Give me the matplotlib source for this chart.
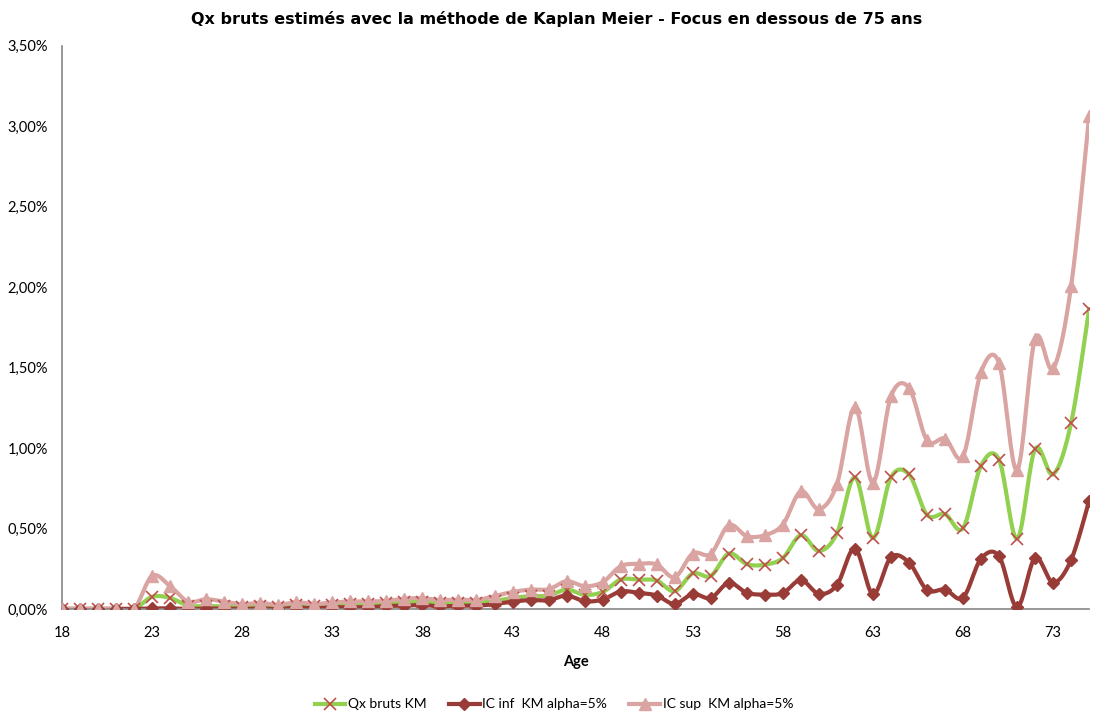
#############
# Libraries #
#############

import matplotlib.pyplot as plt
from matplotlib.ticker import FuncFormatter, MultipleLocator
import numpy as np

########
# Data #
########

ages = list(range(18, 76))
age_ticks = list(range(18, 76, 5))

# Qx bruts (en %)
qx_km = [0, 0, 0, 0, 0, 0.075, 0.068, 0.02, 0.018, 0.015,
         0.012, 0.015, 0.012, 0.025, 0.02, 0.025, 0.028, 0.028, 0.035, 0.04,
         0.045, 0.035, 0.038, 0.038, 0.05, 0.068, 0.08, 0.082, 0.12, 0.088,
         0.105, 0.182, 0.182, 0.176, 0.11, 0.22, 0.205, 0.344, 0.278, 0.275,
         0.316, 0.458, 0.36, 0.469, 0.818, 0.44, 0.818, 0.836, 0.585, 0.589,
         0.502, 0.89, 0.927, 0.436, 0.993, 0.836, 1.156, 1.865]

ic_inf = [0, 0, 0, 0, 0, 0.003, 0.003, 0.0, 0.002, 0.002,
          0.0, 0.003, 0.0, 0.008, 0.005, 0.01, 0.01, 0.01, 0.018, 0.02,
          0.025, 0.015, 0.02, 0.02, 0.03, 0.045, 0.055, 0.054, 0.083, 0.048,
          0.058, 0.108, 0.1, 0.083, 0.031, 0.093, 0.068, 0.162, 0.1, 0.089,
          0.098, 0.179, 0.094, 0.148, 0.375, 0.092, 0.321, 0.288, 0.118, 0.12,
          0.07, 0.312, 0.327, 0.011, 0.316, 0.164, 0.305, 0.672]

ic_sup = [0, 0, 0, 0, 0, 0.205, 0.141, 0.045, 0.06, 0.045,
          0.028, 0.038, 0.024, 0.042, 0.03, 0.04, 0.046, 0.046, 0.05, 0.063,
          0.066, 0.055, 0.058, 0.055, 0.08, 0.105, 0.12, 0.122, 0.172, 0.141,
          0.166, 0.265, 0.28, 0.276, 0.197, 0.344, 0.342, 0.52, 0.452, 0.458,
          0.524, 0.731, 0.62, 0.774, 1.254, 0.785, 1.32, 1.374, 1.047, 1.058,
          0.949, 1.472, 1.527, 0.862, 1.68, 1.494, 2.007, 3.065]

tick_font = "Lato"

#############
# Functions #
#############

def smooth(x, y, n=20):
    """
    Builds a smoothed curve through the points (cubic Bezier segments,
    Catmull-Rom style control points).
    """
    x = np.asarray(x, dtype=float)
    y = np.asarray(y, dtype=float)
    xs, ys = [x[0]], [y[0]]
    t = np.linspace(0, 1, n)[1:]
    for i in range(len(x) - 1):
        p0 = np.array([x[max(i - 1, 0)], y[max(i - 1, 0)]])
        p1 = np.array([x[i], y[i]])
        p2 = np.array([x[i + 1], y[i + 1]])
        p3 = np.array([x[min(i + 2, len(x) - 1)], y[min(i + 2, len(x) - 1)]])
        c1 = p1 + (p2 - p0) / 6.0
        c2 = p2 - (p3 - p1) / 6.0
        b = ((1 - t) ** 3)[:, None] * p1 + (3 * (1 - t) ** 2 * t)[:, None] * c1 \
            + (3 * (1 - t) * t ** 2)[:, None] * c2 + (t ** 3)[:, None] * p2
        xs.extend(b[:, 0])
        ys.extend(b[:, 1])
    return np.array(xs), np.array(ys)

def draw_series(ax, y, color, lw, marker, mcolor, msize, mew, label):
    """
    Draws one smoothed series with its markers and returns a legend handle.
    """
    sx, sy = smooth(ages, y)
    ax.plot(sx, sy, color=color, lw=lw, solid_capstyle="round", zorder=2)
    ax.plot(ages, y, ls="none", marker=marker, ms=msize, color=mcolor,
            mec=mcolor, mew=mew, zorder=3)
    handle, = ax.plot([], [], color=color, lw=lw, marker=marker, ms=msize,
                      mfc=mcolor, mec=mcolor, mew=mew, label=label)
    return handle

def pct(v, pos):
    return "{:.2f}%".format(v).replace(".", ",")

###########
# Program #
###########

if __name__ == '__main__':
    fig = plt.figure(figsize=(11.08, 7.13), dpi=100)
    ax = fig.add_axes([0.056, 0.146, 0.927, 0.79])

    h1 = draw_series(ax, qx_km, "#92D050", 3.0, "x", "#C0504D", 8, 1.2, "Qx bruts KM")
    h2 = draw_series(ax, ic_inf, "#993B37", 3.0, "D", "#993B37", 6.5, 1, "IC inf  KM alpha=5%")
    h3 = draw_series(ax, ic_sup, "#D9A4A2", 3.0, "^", "#D9A4A2", 9, 1, "IC sup  KM alpha=5%")

    ax.set_xlim(18, 75)
    ax.set_ylim(0, 3.5)
    ax.set_xticks(age_ticks)
    ax.yaxis.set_major_locator(MultipleLocator(0.5))
    ax.yaxis.set_major_formatter(FuncFormatter(pct))
    ax.tick_params(length=0, labelsize=10.5, colors="#000000")
    ax.tick_params(axis="x", pad=12)
    ax.tick_params(axis="y", pad=10)
    for lab in ax.get_xticklabels() + ax.get_yticklabels():
        lab.set_family(tick_font)

    for side in ["top", "right"]:
        ax.spines[side].set_visible(False)
    for side in ["left", "bottom"]:
        ax.spines[side].set_color("#868686")
        ax.spines[side].set_linewidth(1.2)

    ax.set_xlabel("Age", fontsize=10.5, fontweight="bold", family=tick_font, labelpad=11)
    fig.suptitle("Qx bruts estimés avec la méthode de Kaplan Meier - Focus en dessous de 75 ans",
                 x=0.502, y=0.985, fontsize=11.5, fontweight="bold", family="DejaVu Sans")

    fig.legend(handles=[h1, h2, h3], loc="center", bbox_to_anchor=(0.5, 0.012),
               ncol=3, frameon=False, columnspacing=1.6, handlelength=2.2,
               handletextpad=0.2, prop={"family": tick_font, "size": 10})

    fig.savefig("out.png", dpi=100)
